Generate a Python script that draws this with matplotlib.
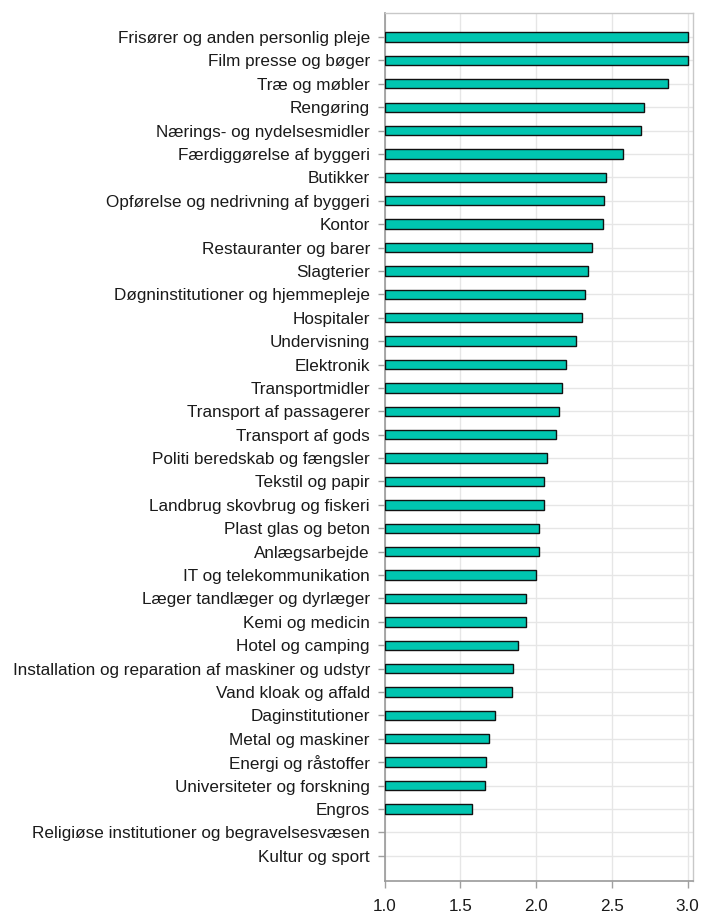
import matplotlib
matplotlib.use("Agg")
import matplotlib.pyplot as plt
import numpy as np

categories = [
    "Frisører og anden personlig pleje",
    "Film presse og bøger",
    "Træ og møbler",
    "Rengøring",
    "Nærings- og nydelsesmidler",
    "Færdiggørelse af byggeri",
    "Butikker",
    "Opførelse og nedrivning af byggeri",
    "Kontor",
    "Restauranter og barer",
    "Slagterier",
    "Døgninstitutioner og hjemmepleje",
    "Hospitaler",
    "Undervisning",
    "Elektronik",
    "Transportmidler",
    "Transport af passagerer",
    "Transport af gods",
    "Politi beredskab og fængsler",
    "Tekstil og papir",
    "Landbrug skovbrug og fiskeri",
    "Plast glas og beton",
    "Anlægsarbejde",
    "IT og telekommunikation",
    "Læger tandlæger og dyrlæger",
    "Kemi og medicin",
    "Hotel og camping",
    "Installation og reparation af maskiner og udstyr",
    "Vand kloak og affald",
    "Daginstitutioner",
    "Metal og maskiner",
    "Energi og råstoffer",
    "Universiteter og forskning",
    "Engros",
    "Religiøse institutioner og begravelsesvæsen",
    "Kultur og sport",
]
values = [3.00, 3.00, 2.87, 2.71, 2.69, 2.57, 2.46, 2.45, 2.44, 2.37,
          2.34, 2.32, 2.30, 2.26, 2.20, 2.17, 2.15, 2.13, 2.07, 2.05,
          2.05, 2.02, 2.02, 2.00, 1.93, 1.93, 1.88, 1.85, 1.84, 1.73,
          1.69, 1.67, 1.66, 1.58, np.nan, np.nan]
xticks = [1.0, 1.5, 2.0, 2.5, 3.0]
xticklabels = ["1.0", "1.5", "2.0", "2.5", "3.0"]

plt.rcParams['font.family'] = ['Liberation Sans', 'DejaVu Sans']

fig = plt.figure(figsize=(7.04, 9.14), dpi=100)
ax = fig.add_axes([0.5462, 0.0361, 0.4378, 0.95])

base = 1.0
y = np.arange(len(categories))
vals = np.array(values, dtype=float)
mask = ~np.isnan(vals)
ax.barh(y[mask], vals[mask] - base, left=base, height=0.4,
        color="#00C5B0", edgecolor="#111111", linewidth=1.0, zorder=3)

ax.set_yticks(y)
ax.set_yticklabels(categories)
ax.set_ylim(len(categories) - 1 + 1.08, -1.04)
ax.set_xlim(1.0, 3.033)
ax.set_xticks(xticks)
ax.set_xticklabels(xticklabels)

ax.grid(True, color="#e6e6e6", linewidth=1.0, zorder=0)
ax.set_axisbelow(True)

for s in ["top", "right"]:
    ax.spines[s].set_color("#c8c8c8")
    ax.spines[s].set_linewidth(1.0)
for s in ["left", "bottom"]:
    ax.spines[s].set_color("#999999")
    ax.spines[s].set_linewidth(1.2)

ax.tick_params(axis="both", colors="#a0a0a0", labelcolor="#1a1a1a",
               labelsize=12.3, length=5, width=1.0, direction="out")
ax.tick_params(axis="y", pad=5.5)
ax.tick_params(axis="x", pad=8)

fig.savefig("out.png", dpi=100)
